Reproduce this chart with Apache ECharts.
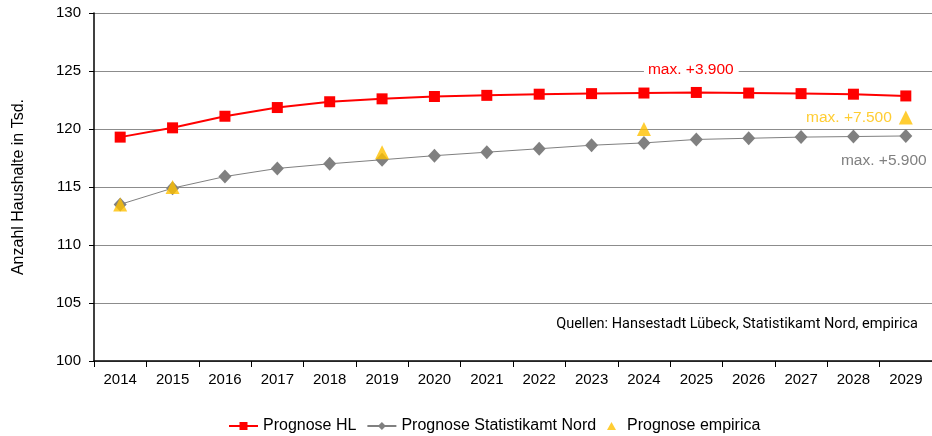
<!DOCTYPE html>
<html>
<head>
<meta charset="utf-8">
<script src="https://cdn.jsdelivr.net/npm/echarts@6/dist/echarts.min.js"></script>
<style>
  html, body { margin: 0; padding: 0; background: #fff; }
  #chart { width: 932px; height: 436px; }
</style>
</head>
<body>
<div id="chart"></div>
<script>
// Haushaltsprognose Lübeck, Angaben in Tausend Haushalten
const years = ['2014','2015','2016','2017','2018','2019','2020','2021','2022','2023','2024','2025','2026','2027','2028','2029'];
const prognoseHL = [119.3, 120.1, 121.1, 121.85, 122.35, 122.6, 122.8, 122.9, 123.0, 123.05, 123.1, 123.15, 123.1, 123.05, 123.0, 122.85];
const prognoseStatNord = [113.5, 114.9, 115.9, 116.6, 117.0, 117.35, 117.7, 118.0, 118.3, 118.6, 118.8, 119.1, 119.2, 119.3, 119.35, 119.4];
const prognoseEmpirica = [113.5, 115.0, null, null, null, 118.0, null, null, null, null, 120.0, null, null, null, null, 121.0];

const font = '"Liberation Sans", Arial, sans-serif';
const RED = '#ff0000', GREY = '#808080', GOLD = '#ffc000';

function withLabel(arr, idx, label) {
  return arr.map((v, i) => {
    if (v === null) return '-';
    if (i !== idx) return v;
    return { value: v, label: Object.assign({ show: true, fontFamily: font, fontSize: 15.5 }, label) };
  });
}

const legendText = { color: '#000', fontFamily: font, fontSize: 16 };

const chart = echarts.init(document.getElementById('chart'), null, { renderer: 'canvas' });
chart.setOption({
  animation: false,
  backgroundColor: '#fff',
  grid: { left: 94, right: 0, top: 13, bottom: 75 },
  xAxis: {
    type: 'category',
    data: years,
    boundaryGap: true,
    axisLine: { lineStyle: { color: '#000', width: 1.5 } },
    axisTick: { show: true, length: 6, lineStyle: { color: '#000' } },
    axisLabel: { color: '#000', fontFamily: font, fontSize: 15, margin: 11 },
    splitLine: { show: false }
  },
  yAxis: {
    type: 'value',
    min: 100, max: 130, interval: 5,
    name: 'Anzahl Haushalte in Tsd.',
    nameLocation: 'middle',
    nameGap: 67,
    nameTextStyle: { color: '#000', fontFamily: font, fontSize: 16 },
    axisLine: { show: true, lineStyle: { color: '#000', width: 1.5 } },
    axisTick: { show: true, length: 5, lineStyle: { color: '#000' } },
    axisLabel: { color: '#000', fontFamily: font, fontSize: 15, margin: 13 },
    splitLine: { show: true, lineStyle: { color: '#8c8c8c', width: 1 } }
  },
  legend: [
    {
      left: 223,
      top: 413,
      itemGap: 10,
      itemWidth: 29,
      itemHeight: 10,
      textStyle: legendText,
      data: ['Prognose HL', 'Prognose Statistikamt Nord']
    },
    {
      left: 602,
      top: 413,
      itemWidth: 9,
      itemHeight: 8,
      textStyle: Object.assign({ padding: [0, 0, 0, 6] }, legendText),
      data: ['Prognose empirica']
    }
  ],
  graphic: [{
    type: 'text',
    right: 14,
    top: 317,
    style: {
      text: 'Quellen: Hansestadt Lübeck, Statistikamt Nord, empirica',
      fill: '#000',
      font: '14.5px "Roboto", sans-serif'
    }
  }],
  series: [
    {
      name: 'Prognose HL',
      type: 'line',
      z: 3,
      data: withLabel(prognoseHL, 11, {
        formatter: 'max. +3.900', color: RED, position: 'top', distance: 8, offset: [-5, 0],
        backgroundColor: '#fff', padding: [1, 5, 1, 4]
      }),
      symbol: 'rect',
      symbolSize: 11,
      lineStyle: { color: RED, width: 2 },
      itemStyle: { color: RED }
    },
    {
      name: 'Prognose Statistikamt Nord',
      type: 'line',
      z: 2,
      data: withLabel(prognoseStatNord, 15, {
        formatter: 'max. +5.900', color: GREY, position: 'bottom', distance: 10, offset: [-22, 0]
      }),
      symbol: 'diamond',
      symbolSize: [13, 14],
      lineStyle: { color: GREY, width: 1 },
      itemStyle: { color: GREY }
    },
    {
      name: 'Prognose empirica',
      type: 'scatter',
      z: 4,
      data: withLabel(prognoseEmpirica, 15, {
        formatter: 'max. +7.500', color: GOLD, position: 'left', distance: 7
      }),
      symbol: 'triangle',
      symbolSize: [14, 14],
      itemStyle: { color: GOLD }
    }
  ]
});
</script>
</body>
</html>
